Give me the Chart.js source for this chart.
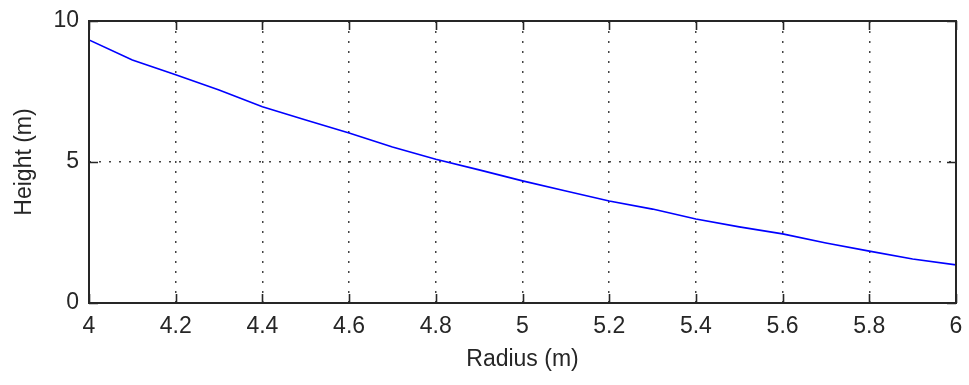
<!DOCTYPE html>
<html>
<head>
<meta charset="utf-8">
<script src="https://cdn.jsdelivr.net/npm/chart.js@4"></script>
<style>
  html, body { margin: 0; padding: 0; background: #fff; }
  #wrap { width: 969px; height: 385px; }
</style>
</head>
<body>
<div id="wrap"><canvas id="height-chart"></canvas></div>
<script>
// values
const radius = [4.0, 4.1, 4.2, 4.3, 4.4, 4.5, 4.6, 4.7, 4.8, 4.9, 5.0, 5.1, 5.2, 5.3, 5.4, 5.5, 5.6, 5.7, 5.8, 5.9, 6.0];
const height = [9.33, 8.62, 8.09, 7.55, 6.96, 6.49, 6.03, 5.53, 5.10, 4.72, 4.33, 3.97, 3.62, 3.33, 2.98, 2.70, 2.45, 2.13, 1.84, 1.56, 1.35];

const FONT = 'Liberation Sans, Arial, sans-serif';
const INK = '#262626';

// box + inward tick marks like matlab axes
const boxPlugin = {
    id: 'box',
    afterDatasetsDraw(chart) {
        const { ctx, chartArea: a, scales } = chart;
        const len = 9;
        ctx.save();
        ctx.strokeStyle = INK;
        ctx.lineWidth = 1.6;
        ctx.beginPath();
        scales.x.ticks.forEach(t => {
            const px = Math.round(scales.x.getPixelForValue(t.value)) + 0.5;
            ctx.moveTo(px, a.bottom); ctx.lineTo(px, a.bottom - len);
            ctx.moveTo(px, a.top); ctx.lineTo(px, a.top + len);
        });
        scales.y.ticks.forEach(t => {
            const py = Math.round(scales.y.getPixelForValue(t.value)) + 0.5;
            ctx.moveTo(a.left, py); ctx.lineTo(a.left + len, py);
            ctx.moveTo(a.right, py); ctx.lineTo(a.right - len, py);
        });
        ctx.stroke();
        ctx.lineWidth = 2;
        ctx.strokeRect(a.left, a.top, a.right - a.left, a.bottom - a.top);
        ctx.restore();
    }
};

const label = v => String(Number(v.toFixed(1)));

new Chart(document.querySelector('#height-chart').getContext('2d'), {
    type: 'line',
    data: {
        datasets: [{
            data: radius.map((r, i) => ({ x: r, y: height[i] })),
            borderColor: '#0000ff',
            borderWidth: 1.6,
            pointRadius: 0,
            tension: 0,
            fill: false
        }]
    },
    options: {
        responsive: true,
        maintainAspectRatio: false,
        animation: false,
        layout: { padding: { top: 21, right: 13, left: 0, bottom: 0 } },
        plugins: { legend: { display: false }, tooltip: { enabled: false } },
        scales: {
            x: {
                type: 'linear',
                min: 4,
                max: 6,
                afterFit: s => { s.height = 82; s.paddingLeft = 0; s.paddingRight = 0; },
                ticks: {
                    stepSize: 0.2,
                    padding: 10,
                    color: INK,
                    font: { family: FONT, size: 23 },
                    maxRotation: 0,
                    callback: label
                },
                grid: { color: '#444', lineWidth: 1.5, drawTicks: false },
                border: { display: false, dash: [2, 8] },
                title: {
                    display: true,
                    text: 'Radius (m)',
                    color: INK,
                    font: { family: FONT, size: 23 },
                    padding: { top: 4, bottom: 12 }
                }
            },
            y: {
                min: 0,
                max: 10,
                afterFit: s => { s.width = 89; s.paddingTop = 0; s.paddingBottom = 0; },
                ticks: {
                    stepSize: 5,
                    padding: 10,
                    color: INK,
                    font: { family: FONT, size: 23 },
                    callback: label
                },
                grid: { color: '#444', lineWidth: 1.5, drawTicks: false },
                border: { display: false, dash: [2, 8] },
                title: {
                    display: true,
                    text: 'Height (m)',
                    color: INK,
                    font: { family: FONT, size: 23 },
                    padding: { top: 11, bottom: 4 }
                }
            }
        }
    },
    plugins: [boxPlugin]
});
</script>
</body>
</html>
